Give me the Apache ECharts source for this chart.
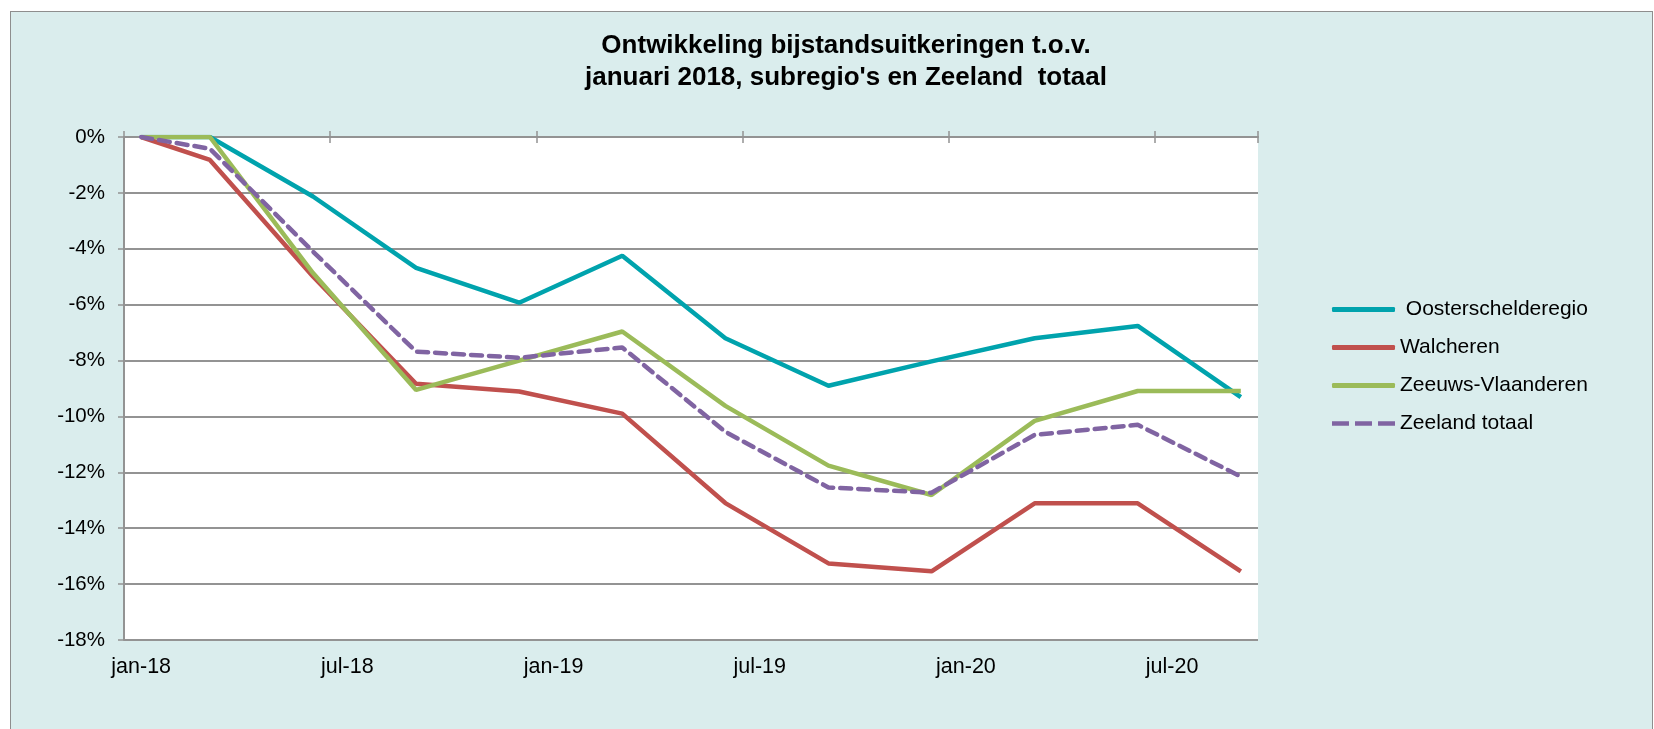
<!DOCTYPE html>
<html>
<head>
<meta charset="utf-8">
<script src="https://cdn.jsdelivr.net/npm/echarts@6/dist/echarts.min.js"></script>
<style>
  html, body { margin: 0; padding: 0; background: #fff; }
  /* teal chart area with its grey border, as in the excel export */
  #box { position: absolute; left: 10px; top: 11px; width: 1641px; height: 730px;
         background: #DAEDED; border: 1px solid #8E8E8E; }
  #chart { position: absolute; left: 0; top: 0; width: 1654px; height: 729px; }
</style>
</head>
<body>
<div id="box"></div>
<div id="chart"></div>
<script>
// all months on the axis (jan-18 .. sep-20)
var months = ['jan-18','feb-18','mrt-18','apr-18','mei-18','jun-18','jul-18','aug-18','sep-18','okt-18','nov-18','dec-18',
              'jan-19','feb-19','mrt-19','apr-19','mei-19','jun-19','jul-19','aug-19','sep-19','okt-19','nov-19','dec-19',
              'jan-20','feb-20','mrt-20','apr-20','mei-20','jun-20','jul-20','aug-20','sep-20'];
// months that have a measurement
var meetMaanden = ['jan-18','mrt-18','jun-18','sep-18','dec-18','mrt-19','jun-19','sep-19','dec-19','mrt-20','jun-20','sep-20'];

// % change vs januari 2018
var oosterschelde = [0, 0, -2.13, -4.68, -5.93, -4.25, -7.2, -8.9, -8.03, -7.2, -6.76, -9.31];
var walcheren     = [0, -0.82, -4.99, -8.83, -9.11, -9.9, -13.1, -15.26, -15.54, -13.11, -13.11, -15.54];
var zvlaanderen   = [0, 0, -4.87, -9.05, -8.0, -6.96, -9.62, -11.76, -12.81, -10.16, -9.09, -9.09];
var zeeland       = [0, -0.42, -4.1, -7.68, -7.9, -7.53, -10.55, -12.54, -12.73, -10.66, -10.3, -12.15];

var yTicks = { min: -18, max: 0, step: 2 };

function paren(vals) {
  return meetMaanden.map(function (m, i) { return [m, vals[i]]; });
}

var font = 'Liberation Sans, Arial, sans-serif';
var grijs = '#939393';

// legend icons: solid bar, or three dashes for the dashed series
var iconVol = 'roundRect';
var iconStreep = 'path://M0,0h15.5v4h-15.5z M21,0h15.5v4h-15.5z M42,0h15.5v4h-15.5z';

var myChart = echarts.init(document.getElementById('chart'));

function lijn(naam, vals, kleur, dash) {
  return {
    name: naam,
    type: 'line',
    data: paren(vals),
    xAxisIndex: 0,
    symbol: 'none',
    connectNulls: true,
    lineStyle: { color: kleur, width: 4.5, type: dash ? [11, 7] : 'solid', cap: dash ? 'round' : 'butt' },
    itemStyle: { color: kleur },
    emphasis: { disabled: true }
  };
}

var option = {
  backgroundColor: 'transparent',
  animation: false,
  title: {
    text: 'Ontwikkeling bijstandsuitkeringen t.o.v.\njanuari 2018, subregio\'s en Zeeland  totaal',
    left: 841,
    textAlign: 'center',
    top: 25,
    textStyle: { fontFamily: font, fontSize: 26, fontWeight: 'bold', color: '#000', lineHeight: 32 }
  },
  legend: {
    orient: 'vertical',
    left: 1327,
    top: 294,
    itemWidth: 63,
    itemHeight: 5,
    itemGap: 17,
    textStyle: { fontFamily: font, fontSize: 21, color: '#000', lineHeight: 21 },
    data: [
      { name: ' Oosterschelderegio', icon: iconVol },
      { name: 'Walcheren', icon: iconVol },
      { name: 'Zeeuws-Vlaanderen', icon: iconVol },
      { name: 'Zeeland totaal', icon: iconStreep }
    ]
  },
  grid: { left: 124, top: 137, right: 396, bottom: 89, show: true, backgroundColor: '#fff', borderWidth: 0 },
  xAxis: [
    {
      type: 'category',
      data: months,
      position: 'bottom',
      boundaryGap: true,
      axisLine: { show: true, lineStyle: { color: grijs, width: 2 } },
      axisTick: { show: false },
      axisLabel: { interval: 5, margin: 16, fontFamily: font, fontSize: 21.5, color: '#000' }
    },
    {
      type: 'category',
      data: months,
      position: 'top',
      boundaryGap: true,
      axisLine: { show: false },
      axisTick: { show: true, interval: 5, length: 6, lineStyle: { color: grijs, width: 1.5 } },
      axisLabel: { show: false }
    },
    {
      type: 'category',
      data: months,
      position: 'top',
      boundaryGap: true,
      axisLine: { show: false },
      axisTick: { show: true, inside: true, interval: 5, length: 6, lineStyle: { color: grijs, width: 1.5 } },
      axisLabel: { show: false }
    }
  ],
  yAxis: {
    type: 'value',
    min: yTicks.min,
    max: yTicks.max,
    interval: yTicks.step,
    axisLine: { show: true, lineStyle: { color: grijs, width: 2 } },
    axisTick: { show: true, length: 6, lineStyle: { color: grijs, width: 1.5 } },
    axisLabel: { margin: 19, fontFamily: font, fontSize: 20.5, color: '#000', formatter: function (v) { return v + '%'; } },
    splitLine: { show: true, lineStyle: { color: grijs, width: 2 } }
  },
  series: [
    lijn(' Oosterschelderegio', oosterschelde, '#00A3AD', false),
    lijn('Walcheren', walcheren, '#C0504D', false),
    lijn('Zeeuws-Vlaanderen', zvlaanderen, '#9BBB59', false),
    lijn('Zeeland totaal', zeeland, '#8064A2', true)
  ]
};

myChart.setOption(option);
</script>
</body>
</html>
